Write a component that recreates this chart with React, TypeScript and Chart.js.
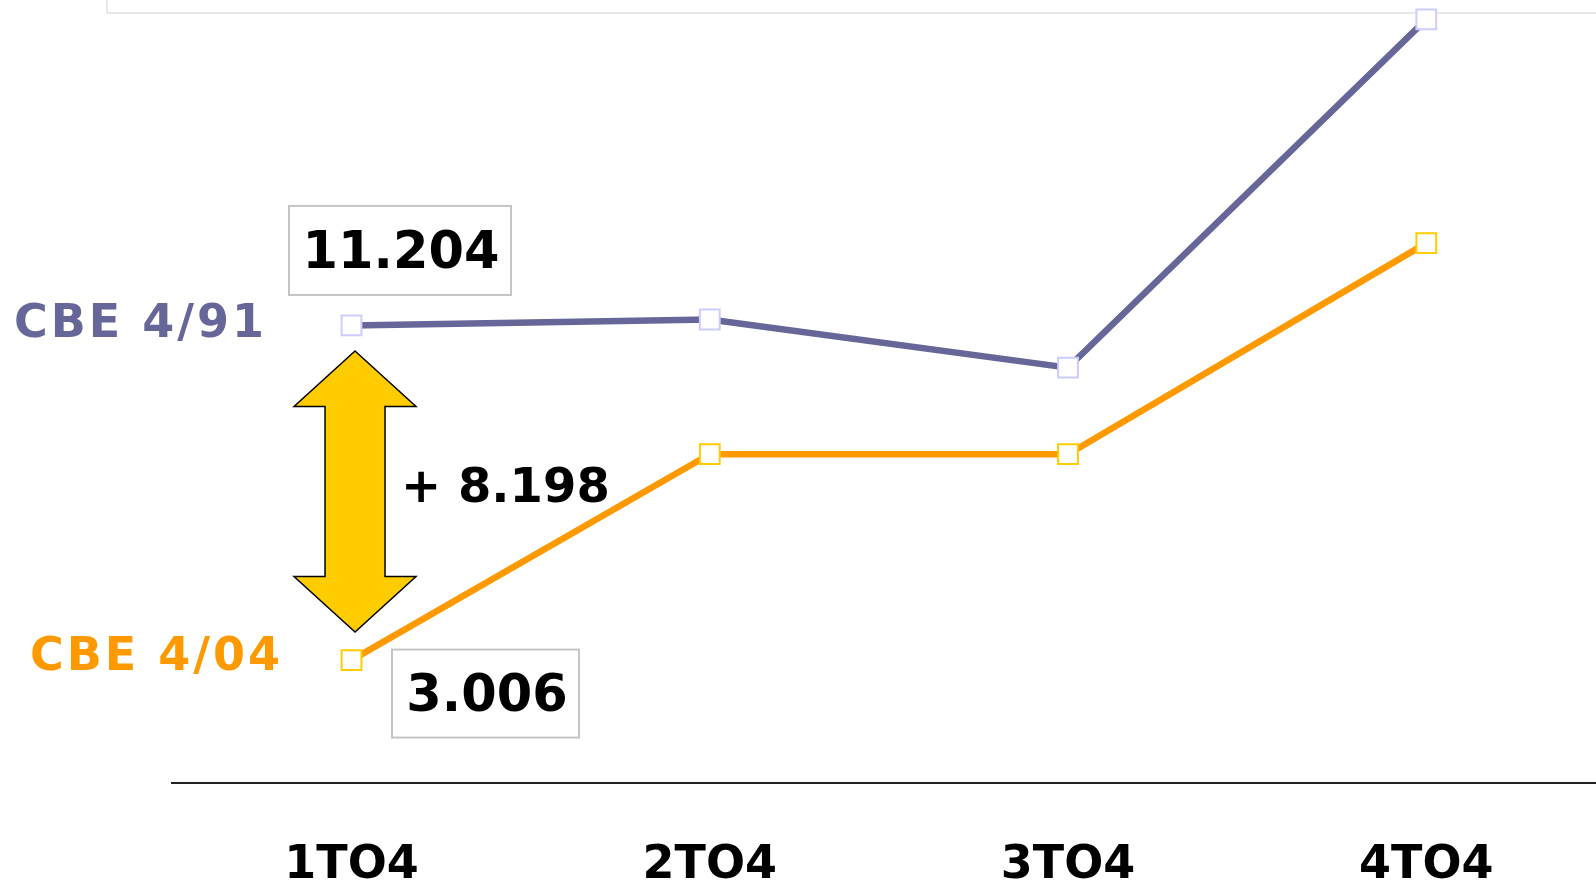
import React, { useEffect, useRef } from 'react';
import { Chart, registerables } from 'chart.js';

Chart.register(...registerables);

// Quarters of 2004 and the two series (persons, thousands separated by ".")
const quarters = ['1TO4', '2TO4', '3TO4', '4TO4'];
const cbe91 = [11204, 11350, 10170, 18700];
const cbe04 = [3006, 8050, 8050, 13220];
const seriesNames = ['CBE 4/91', 'CBE 4/04'];

const BLUE = '#666699';
const BLUE_MARK = '#ccccff';
const ORANGE = '#ff9900';
const ORANGE_MARK = '#ffcc00';
const FONT = '"DejaVu Sans", Verdana, sans-serif';

// Spanish-style grouping: 11204 -> "11.204"
const fmt = (v: number) => String(Math.round(v)).replace(/\B(?=(\d{3})+(?!\d))/g, '.');

const drawBoxedValue = (ctx: CanvasRenderingContext2D, text: string, cx: number, cy: number, w: number, h: number, tdx: number, tdy: number) => {
  ctx.save();
  ctx.fillStyle = '#ffffff';
  ctx.fillRect(cx - w / 2, cy - h / 2, w, h);
  ctx.strokeStyle = '#c4c4c4';
  ctx.lineWidth = 2;
  ctx.strokeRect(cx - w / 2, cy - h / 2, w, h);
  ctx.fillStyle = '#000000';
  ctx.font = `bold 51px ${FONT}`;
  ctx.textAlign = 'center';
  ctx.textBaseline = 'middle';
  ctx.fillText(text, cx + tdx, cy + tdy);
  ctx.restore();
};

const annotations = {
  id: 'annotations',
  beforeDraw(chart: any) {
    const { ctx } = chart;
    ctx.save();
    ctx.strokeStyle = '#e8e8e8';
    ctx.lineWidth = 2;
    ctx.beginPath();
    ctx.moveTo(107, 0);
    ctx.lineTo(107, 13);
    ctx.lineTo(chart.width, 13);
    ctx.stroke();
    ctx.restore();
  },
  afterDatasetsDraw(chart: any) {
    const { ctx } = chart;
    const xs = chart.scales.x;
    const ys = chart.scales.y;
    const x0 = xs.getPixelForValue(0);
    const yA = ys.getPixelForValue(cbe91[0]);
    const yB = ys.getPixelForValue(cbe04[0]);

    // series names at the start of each line
    ctx.save();
    ctx.font = `bold 46px ${FONT}`;
    ctx.textAlign = 'left';
    ctx.textBaseline = 'middle';
    (ctx as any).letterSpacing = '3px';
    ctx.fillStyle = BLUE;
    ctx.fillText(seriesNames[0], 14, yA);
    ctx.fillStyle = ORANGE;
    ctx.fillText(seriesNames[1], 30, yB - 2);
    (ctx as any).letterSpacing = '0px';
    ctx.restore();

    // first-quarter values in framed boxes
    drawBoxedValue(ctx, fmt(cbe91[0]), x0 + 48.5, yA - 75, 222, 89, 1, 4);
    drawBoxedValue(ctx, fmt(cbe04[0]), x0 + 134, yB + 33.5, 187, 88, 1.5, 4);

    // double-headed arrow showing the gap
    const cx = x0 + 3.5;
    const top = yA + 25.5;
    const bot = yB - 28;
    const head = 55.5;
    const hw = 61;
    const sw = 30;
    ctx.save();
    ctx.beginPath();
    ctx.moveTo(cx, top);
    ctx.lineTo(cx + hw, top + head);
    ctx.lineTo(cx + sw, top + head);
    ctx.lineTo(cx + sw, bot - head);
    ctx.lineTo(cx + hw, bot - head);
    ctx.lineTo(cx, bot);
    ctx.lineTo(cx - hw, bot - head);
    ctx.lineTo(cx - sw, bot - head);
    ctx.lineTo(cx - sw, top + head);
    ctx.lineTo(cx - hw, top + head);
    ctx.closePath();
    ctx.fillStyle = '#ffcc00';
    ctx.fill();
    ctx.strokeStyle = '#000000';
    ctx.lineWidth = 1.5;
    ctx.stroke();

    // difference label
    ctx.font = `bold 48px ${FONT}`;
    ctx.fillStyle = '#000000';
    ctx.textAlign = 'left';
    ctx.textBaseline = 'middle';
    ctx.fillText(`+ ${fmt(cbe91[0] - cbe04[0])}`, x0 + 49.5, (yA + yB) / 2 - 3);
    ctx.restore();
  },
};

export default function App() {
  const canvasRef = useRef<HTMLCanvasElement | null>(null);

  useEffect(() => {
    const canvas = canvasRef.current;
    if (!canvas) return;
    const chart = new Chart(canvas, {
      type: 'line',
      data: {
        labels: quarters,
        datasets: [
          {
            label: seriesNames[0],
            data: cbe91,
            borderColor: BLUE,
            borderWidth: 6.5,
            pointStyle: 'rect',
            pointRadius: 14,
            pointBorderWidth: 2,
            pointBorderColor: BLUE_MARK,
            pointBackgroundColor: '#ffffff',
            tension: 0,
            clip: false as any,
          },
          {
            label: seriesNames[1],
            data: cbe04,
            borderColor: ORANGE,
            borderWidth: 6.5,
            pointStyle: 'rect',
            pointRadius: 14,
            pointBorderWidth: 2,
            pointBorderColor: ORANGE_MARK,
            pointBackgroundColor: '#ffffff',
            tension: 0,
            clip: false as any,
          },
        ],
      },
      options: {
        responsive: false,
        animation: false,
        devicePixelRatio: 1,
        layout: { autoPadding: false, padding: { left: 172.4, right: 14.6, top: 7.2, bottom: 0 } },
        plugins: {
          legend: { display: false },
          tooltip: { enabled: false },
        },
        scales: {
          x: {
            offset: true,
            grid: { display: false, drawTicks: false, tickLength: 0 },
            border: { display: true, color: '#222222', width: 2 },
            ticks: {
              color: '#000000',
              padding: 56,
              font: { family: FONT, size: 46, weight: 'bold', lineHeight: 1.2 },
              maxRotation: 0,
              autoSkip: false,
            },
          },
          y: {
            display: false,
            min: 0,
            max: 19000,
          },
        },
      },
      plugins: [annotations],
    });
    return () => chart.destroy();
  }, []);

  return (
    <div
      style={{
        position: 'fixed',
        left: 0,
        top: 0,
        width: 1596,
        height: 880,
        overflow: 'hidden',
        background: '#ffffff',
      }}
    >
      <canvas ref={canvasRef} width={1620} height={950} style={{ display: 'block' }} />
    </div>
  );
}
